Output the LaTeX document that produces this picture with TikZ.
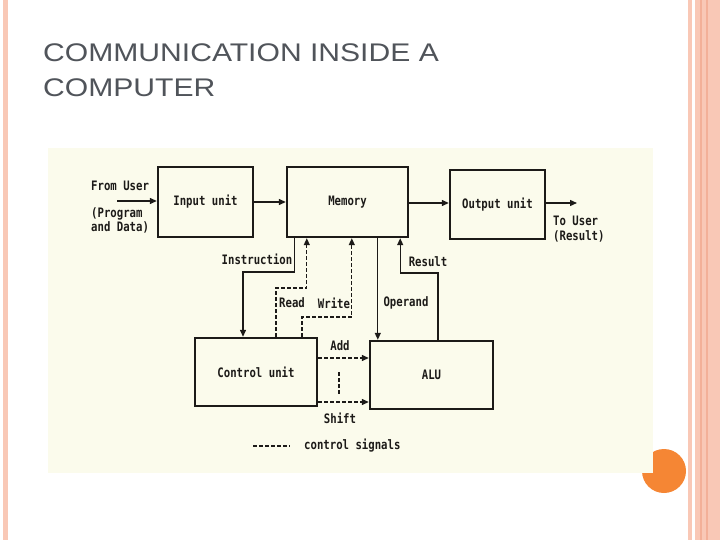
\documentclass[tikz,border=0pt]{standalone}
\usepackage{fontspec}
\newfontfamily\titlefont[FakeStretch=1.18]{Liberation Sans}
\newfontfamily\scanfont[FakeStretch=0.82]{DejaVu Sans Mono}
\usepackage{tikz}
\usetikzlibrary{
    positioning,
    arrows.meta,
}
\definecolor{slidepink}{RGB}{249,200,182}
\definecolor{slidedark}{RGB}{243,176,152}
\definecolor{dotorange}{RGB}{245,134,52}
\definecolor{scancream}{RGB}{251,251,236}
\definecolor{titlegray}{RGB}{80,84,90}
\definecolor{ink}{RGB}{28,26,24}
\tikzset{
    % Box styles
    unit/.style={rectangle, draw=ink, line width=2.4pt, minimum width=95pt,
                 minimum height=70pt, inner sep=0pt, align=center,
                 font=\scanfont\bfseries\fontsize{13}{14}\selectfont, text=ink},
    % Text styles
    tag/.style={inner sep=0pt, align=left, text=ink,
                font=\scanfont\bfseries\fontsize{13}{14.5}\selectfont},
    slide title/.style={inner sep=0pt, text=titlegray,
                font=\titlefont\fontsize{25.5}{30}\selectfont},
    % Arrow styles
    arrow/.style={-{Triangle[length=7pt, width=6pt]}, line width=1.3pt, draw=ink},
    signal/.style={line width=1.3pt, dash pattern=on 3.5pt off 2.5pt, draw=ink},
    signal arrow/.style={signal, -{Triangle[length=7pt, width=6pt]}},
}

\begin{document}
\begin{tikzpicture}[x=1pt, y=-1pt]
    \useasboundingbox (0,0) rectangle (720,540);

    % Slide frame
    \fill[slidepink] (3,0) rectangle (8,540);
    \fill[slidepink] (688,0) rectangle (692,540);
    \fill[slidepink] (695,0) rectangle (720,540);
    \draw[slidedark, line width=1.5pt] (701,0) -- (701,540);
    \draw[slidedark, line width=1.5pt] (707,0) -- (707,540);
    \fill[dotorange] (664,471) circle (22);
    \fill[scancream] (48,148) rectangle (653,473);

    % Title
    \node[slide title, anchor=base west] (title1) at (43,62) {COMMUNICATION INSIDE A};
    \node[slide title, anchor=base west] (title2) at (43,97) {COMPUTER};

    % Units
    \node[unit] (inp) at (205.5,202) {Input unit};
    \node[unit, minimum width=121pt] (mem) at (347.5,202) {Memory};
    \node[unit, minimum height=69pt] (out) at (497.5,204.5) {Output unit};
    \node[unit, minimum width=122pt, minimum height=68pt] (ctrl) at (256,372) {Control unit};
    \node[unit, minimum width=123pt, minimum height=68pt] (alu) at (431.5,375) {ALU};

    % User side
    \coordinate (user in) at (117,201);
    \coordinate (user out) at (577,203);
    \node[tag, anchor=west] (from) at (91,186) {From User};
    \node[tag, anchor=north west] (prog) at (91,207) {(Program\\and Data)};
    \node[tag, anchor=north west] (touser) at (553,216) {To User\\(Result)};

    % Data paths
    \draw[arrow] (user in) -- (user in -| inp.west);
    \draw[arrow] (inp) -- (mem);
    \draw[arrow] (mem.east |- user out) -- (user out -| out.west);
    \draw[arrow] (out.east |- user out) -- (user out);

    % Memory to control unit and ALU
    \coordinate (ibend) at (243,272);
    \coordinate (rbend) at (438,273);
    \draw[arrow] ([xshift=9pt]mem.south west) |- (ibend) -- (ibend |- ctrl.north);
    \draw[arrow] ([xshift=9pt]alu.north west |- mem.south) -- ([xshift=9pt]alu.north west);
    \draw[arrow] (rbend |- alu.north) -- (rbend) -| ([xshift=-9pt]mem.south east);
    \node[tag] (instr) at (257,259) {Instruction};
    \node[tag] (opnd) at (406,303) {Operand};
    \node[tag] (res) at (428,262) {Result};

    % Control signals
    \coordinate (rd) at (276,288);
    \coordinate (wr) at (302,317);
    \draw[signal arrow] (rd |- ctrl.north) -- (rd) -| ([xshift=21pt]mem.south west);
    \draw[signal arrow] (wr |- ctrl.north) -- (wr) -| ([xshift=66pt]mem.south west);
    \node[tag] (read) at (292,303) {Read};
    \node[tag] (write) at (334,303) {Write};

    \coordinate (addsig) at (340,358);
    \coordinate (shiftsig) at (340,402);
    \draw[signal arrow] (ctrl.east |- addsig) -- (alu.west |- addsig);
    \draw[signal arrow] (ctrl.east |- shiftsig) -- (alu.west |- shiftsig);
    \draw[signal] (339,372) -- (339,394);
    \node[tag] (add) at (340,346) {Add};
    \node[tag] (shift) at (340,418) {Shift};

    % Legend
    \node[tag, anchor=west] (legend) at (304,446) {control signals};
    \draw[signal] ([xshift=-51pt]legend.west) -- ([xshift=-14pt]legend.west);
\end{tikzpicture}
\end{document}
